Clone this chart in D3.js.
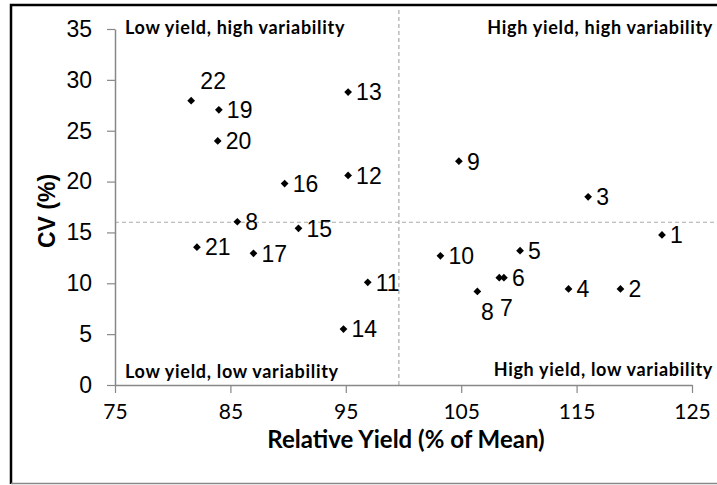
<!DOCTYPE html>
<html>
<head>
<meta charset="utf-8">
<script src="https://cdn.jsdelivr.net/npm/d3@7"></script>
<style>
  body { margin: 0; background: #fff; }
  svg { display: block; }
</style>
</head>
<body>
<div id="main"></div>
<script>
// point labels, relative yield (% of mean) and CV (%)
const pointLabels = ["1", "2", "3", "4", "5", "6", "7", "8", "9", "10", "11",
                     "12", "13", "14", "15", "16", "17", "8", "19", "20", "21", "22"];
const relYield = [122.4, 118.8, 116.0, 114.3, 110.1, 108.7, 108.3, 106.4, 104.8, 103.2, 96.9,
                  95.2, 95.2, 94.8, 90.9, 89.7, 87.0, 85.6, 84.0, 83.9, 82.1, 81.6];
const cvValues = [14.75, 9.45, 18.5, 9.45, 13.2, 10.55, 10.55, 9.2, 22.0, 12.7, 10.1,
                  20.6, 28.8, 5.5, 15.4, 19.8, 12.95, 16.05, 27.05, 24.0, 13.55, 27.95];

const xTicks = [75, 85, 95, 105, 115, 125];
const yTicks = [0, 5, 10, 15, 20, 25, 30, 35];

// reference lines (mean yield, mean CV)
const yieldCut = 99.6;
const cvCut = 16.0;

const quadrantNames = ["Low yield, high variability", "High yield, high variability",
                       "Low yield, low variability", "High yield, low variability"];

// label nudges for the crowded points (index -> [dx, dy]), others sit to the right
const labelNudge = { 21: [22, -20], 7: [10, 20], 6: [7, 30] };

const width = 717, height = 485;

const xScale = d3.scaleLinear().domain([75, 125]).range([115, 692]);
const yScale = d3.scaleLinear().domain([0, 35]).range([385, 29]);

const svg = d3.select("#main").append("svg")
  .attr("width", width)
  .attr("height", height);

// outer frame
svg.append("path")
  .attr("d", "M11,484 L11,5 L720,5")
  .attr("fill", "none")
  .attr("stroke", "#000")
  .attr("stroke-width", 2.5);
svg.append("line")
  .attr("x1", 11).attr("x2", 720)
  .attr("y1", 483.5).attr("y2", 483.5)
  .attr("stroke", "#888")
  .attr("stroke-width", 1.5);

// dashed reference lines
svg.append("line")
  .attr("x1", xScale(yieldCut)).attr("x2", xScale(yieldCut))
  .attr("y1", yScale(0)).attr("y2", yScale(36.9))
  .attr("stroke", "#aaa").attr("stroke-width", 1.2)
  .attr("stroke-dasharray", "4,3");
svg.append("line")
  .attr("x1", xScale(75)).attr("x2", xScale(127.2))
  .attr("y1", yScale(cvCut)).attr("y2", yScale(cvCut))
  .attr("stroke", "#aaa").attr("stroke-width", 1.2)
  .attr("stroke-dasharray", "4,3");

// axes
const xAxis = d3.axisBottom(xScale).tickValues(xTicks).tickSize(8).tickPadding(11).tickSizeOuter(0);
const yAxis = d3.axisLeft(yScale).tickValues(yTicks).tickSize(8).tickPadding(15).tickSizeOuter(0);

svg.append("g")
  .attr("transform", `translate(0, ${yScale(0)})`)
  .call(xAxis)
  .call(g => g.select(".domain").attr("stroke", "#888").attr("stroke-width", 1.5))
  .call(g => g.selectAll(".tick line").attr("stroke", "#888").attr("stroke-width", 1.2))
  .call(g => g.selectAll(".tick text")
    .attr("fill", "#000")
    .style("font-family", "Lato, sans-serif")
    .style("font-size", "21px"));

svg.append("g")
  .attr("transform", `translate(${xScale(75)}, 0)`)
  .call(yAxis)
  .call(g => g.select(".domain").attr("stroke", "#888").attr("stroke-width", 1.5))
  .call(g => g.selectAll(".tick line").attr("stroke", "#888").attr("stroke-width", 1.2))
  .call(g => g.selectAll(".tick text")
    .attr("fill", "#000")
    .style("font-family", "'Liberation Sans', Arial, sans-serif")
    .style("font-size", "23px"));

// axis titles
svg.append("text")
  .attr("x", 406).attr("y", 448)
  .attr("text-anchor", "middle")
  .style("font-family", "Lato, sans-serif")
  .style("font-weight", "bold")
  .style("font-size", "24px")
  .text("Relative Yield (% of Mean)");

svg.append("text")
  .attr("transform", "translate(55, 211) rotate(-90)")
  .attr("text-anchor", "middle")
  .style("font-family", "'Liberation Sans', Arial, sans-serif")
  .style("font-weight", "bold")
  .style("font-size", "23px")
  .text("CV (%)");

// quadrant captions
const quadPos = [
  { x: 125, y: 34, anchor: "start" },
  { x: 713, y: 34, anchor: "end" },
  { x: 125, y: 378, anchor: "start" },
  { x: 713, y: 376, anchor: "end" }
];
svg.selectAll(".quad")
  .data(quadrantNames)
  .enter().append("text")
  .attr("class", "quad")
  .attr("x", (d, i) => quadPos[i].x)
  .attr("y", (d, i) => quadPos[i].y)
  .attr("text-anchor", (d, i) => quadPos[i].anchor)
  .style("font-family", "Lato, sans-serif")
  .style("font-weight", "bold")
  .style("font-size", "18px")
  .style("letter-spacing", "0.7px")
  .text(d => d);

const points = relYield.map((x, i) => ({ x: x, y: cvValues[i], label: pointLabels[i], i: i }));

// diamonds
svg.selectAll(".pt")
  .data(points)
  .enter().append("path")
  .attr("class", "pt")
  .attr("d", d3.symbol(d3.symbolSquare, 30))
  .attr("transform", d => `translate(${xScale(d.x)}, ${yScale(d.y)}) rotate(45)`)
  .attr("fill", "#000");

// labels left of the cut line get clipped there
svg.append("clipPath").attr("id", "leftClip")
  .append("rect")
  .attr("x", 0).attr("y", 0)
  .attr("width", xScale(yieldCut)).attr("height", height);

svg.selectAll(".lbl")
  .data(points)
  .enter().append("text")
  .attr("class", "lbl")
  .attr("x", d => xScale(d.x) + (labelNudge[d.i] ? labelNudge[d.i][0] : 8))
  .attr("y", d => yScale(d.y) + (labelNudge[d.i] ? labelNudge[d.i][1] : 0))
  .attr("dy", "0.36em")
  .attr("text-anchor", d => labelNudge[d.i] ? "middle" : "start")
  .attr("clip-path", d => d.x < yieldCut ? "url(#leftClip)" : null)
  .style("font-family", "'Liberation Sans', Arial, sans-serif")
  .style("font-size", "23px")
  .text(d => d.label);
</script>
</body>
</html>
